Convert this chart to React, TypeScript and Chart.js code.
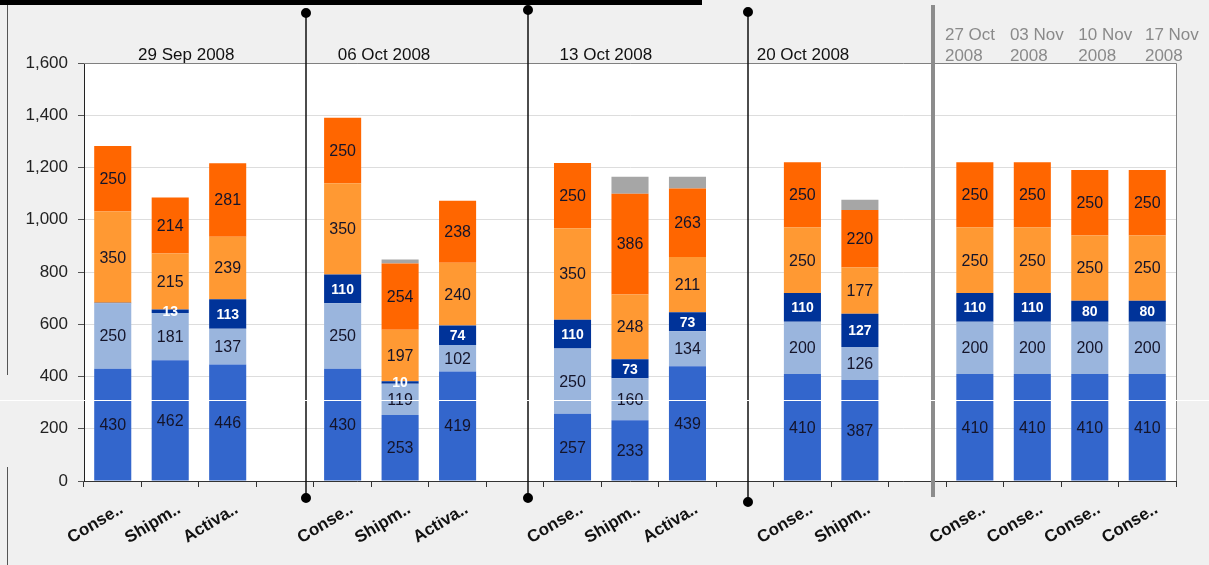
import React, { useEffect, useRef } from "react";
import { Chart, registerables } from "chart.js";

Chart.register(...registerables);

// Category slots: three weekly groups, one two-bar group, then four forecast weeks.
const categories = [
  "Conse..", "Shipm..", "Activa..", "",
  "Conse..", "Shipm..", "Activa..", "",
  "Conse..", "Shipm..", "Activa..", "",
  "Conse..", "Shipm..", "",
  "Conse..", "Conse..", "Conse..", "Conse..",
];

// Stacked series, bottom to top.
const baseValues = [430, 462, 446, null, 430, 253, 419, null, 257, 233, 439, null, 410, 387, null, 410, 410, 410, 410];
const secondValues = [250, 181, 137, null, 250, 119, 102, null, 250, 160, 134, null, 200, 126, null, 200, 200, 200, 200];
const thirdValues = [2, 13, 113, null, 110, 10, 74, null, 110, 73, 73, null, 110, 127, null, 110, 110, 80, 80];
const fourthValues = [350, 215, 239, null, 350, 197, 240, null, 350, 248, 211, null, 250, 177, null, 250, 250, 250, 250];
const fifthValues = [250, 214, 281, null, 250, 254, 238, null, 250, 386, 263, null, 250, 220, null, 250, 250, 250, 250];
const restValues = [0, 0, 0, null, 0, 15, 0, null, 0, 65, 45, null, 0, 40, null, 0, 0, 0, 0];

const yTicks = [0, 200, 400, 600, 800, 1000, 1200, 1400, 1600];

// Week headings over the actuals, placed in category-index units.
const weekTitles = ["29 Sep 2008", "06 Oct 2008", "13 Oct 2008", "20 Oct 2008"];
const weekTitlePos = [1.28, 4.72, 8.58, 12.01];

// Forecast week headings (two lines each), left edges in category-index units.
const forecastTitles = [["27 Oct", "2008"], ["03 Nov", "2008"], ["10 Nov", "2008"], ["17 Nov", "2008"]];
const forecastTitlePos = [14.48, 15.61, 16.8, 17.96];

// Week separators (category-index units) and the actuals/forecast divider.
const separatorPos = [3.36, 7.23, 11.05];
const separatorTops = [13, 10, 12];
const separatorBottoms = [498, 498, 502];
const dividerPos = 14.27;

const FONT = "'Liberation Sans', Arial, sans-serif";

const colors = ["#3366cc", "#9ab5dd", "#003399", "#ff9933", "#ff6600", "#a6a6a6"];

const decorPlugin = {
  id: "decor",
  beforeDraw(chart: any) {
    const { ctx, chartArea } = chart;
    ctx.save();
    ctx.fillStyle = "#f0f0f0";
    ctx.fillRect(0, 0, chart.width, chart.height);
    ctx.fillStyle = "#ffffff";
    ctx.fillRect(chartArea.left, chartArea.top, chartArea.right - chartArea.left, chartArea.bottom - chartArea.top);
    ctx.restore();
  },
  afterDatasetsDraw(chart: any) {
    const { ctx } = chart;
    ctx.save();
    ctx.textAlign = "center";
    ctx.textBaseline = "middle";
    for (let d = 0; d < 5; d++) {
      const meta = chart.getDatasetMeta(d);
      const data = chart.data.datasets[d].data;
      meta.data.forEach((bar: any, i: number) => {
        const v = data[i];
        if (v == null || v < 5) return;
        const y = (bar.y + bar.base) / 2;
        if (d === 2) {
          ctx.font = `bold 14px ${FONT}`;
          ctx.fillStyle = "#ffffff";
        } else {
          ctx.font = `16px ${FONT}`;
          ctx.fillStyle = "#14142a";
        }
        ctx.fillText(String(v), bar.x, y + 1);
      });
    }
    ctx.restore();
  },
  afterDraw(chart: any) {
    const { ctx, chartArea } = chart;
    const x = chart.scales.x;
    ctx.save();

    // plot frame: top and right edges
    ctx.strokeStyle = "#808080";
    ctx.lineWidth = 1;
    ctx.beginPath();
    ctx.moveTo(chartArea.left, chartArea.top + 0.5);
    ctx.lineTo(chartArea.right + 0.5, chartArea.top + 0.5);
    ctx.lineTo(chartArea.right + 0.5, chartArea.bottom);
    ctx.stroke();

    // week headings
    ctx.fillStyle = "#111111";
    ctx.font = `17px ${FONT}`;
    ctx.textAlign = "center";
    ctx.textBaseline = "alphabetic";
    weekTitles.forEach((t, i) => {
      ctx.fillText(t, x.getPixelForValue(weekTitlePos[i]), chartArea.top - 3);
    });

    // forecast headings
    ctx.fillStyle = "#8a8a8a";
    ctx.textAlign = "left";
    forecastTitles.forEach((lines, i) => {
      const px = x.getPixelForValue(forecastTitlePos[i]);
      ctx.fillText(lines[0], px, chartArea.top - 23);
      ctx.fillText(lines[1], px, chartArea.top - 2);
    });

    // week separators with end dots
    ctx.strokeStyle = "#111111";
    ctx.fillStyle = "#000000";
    ctx.lineWidth = 1.5;
    separatorPos.forEach((p, i) => {
      const px = Math.round(x.getPixelForValue(p));
      ctx.beginPath();
      ctx.moveTo(px, separatorTops[i]);
      ctx.lineTo(px, separatorBottoms[i]);
      ctx.stroke();
      ctx.beginPath();
      ctx.arc(px, separatorTops[i], 5, 0, Math.PI * 2);
      ctx.arc(px, separatorBottoms[i], 5, 0, Math.PI * 2);
      ctx.fill();
    });

    // actuals / forecast divider
    const dx = Math.round(x.getPixelForValue(dividerPos));
    ctx.strokeStyle = "#8c8c8c";
    ctx.lineWidth = 4;
    ctx.beginPath();
    ctx.moveTo(dx, 5);
    ctx.lineTo(dx, 497);
    ctx.stroke();

    // top black band and left edge rule
    ctx.fillStyle = "#000000";
    ctx.fillRect(0, 0, 702, 5);
    ctx.strokeStyle = "#555555";
    ctx.lineWidth = 1;
    ctx.beginPath();
    ctx.moveTo(7.5, 5);
    ctx.lineTo(7.5, 375);
    ctx.moveTo(7.5, 467);
    ctx.lineTo(7.5, chart.height);
    ctx.stroke();

    // thin white seam across the figure
    ctx.strokeStyle = "#ffffff";
    ctx.beginPath();
    ctx.moveTo(0, 400.5);
    ctx.lineTo(chart.width, 400.5);
    ctx.stroke();

    ctx.restore();
  },
};

export default function App() {
  const ref = useRef<HTMLCanvasElement>(null);

  useEffect(() => {
    if (!ref.current) return;
    const series = [baseValues, secondValues, thirdValues, fourthValues, fifthValues, restValues];
    const names = ["Base", "Second", "Third", "Fourth", "Fifth", "Other"];
    const chart = new Chart(ref.current, {
      type: "bar",
      data: {
        labels: categories,
        datasets: series.map((s, i) => ({
          label: names[i],
          data: s,
          backgroundColor: colors[i],
          borderWidth: 0,
          barPercentage: 0.645,
          categoryPercentage: 1,
        })),
      },
      options: {
        responsive: false,
        animation: false,
        layout: { padding: { top: 63, right: 33, left: 0, bottom: 0 } },
        plugins: {
          legend: { display: false },
          tooltip: { enabled: false },
        },
        scales: {
          x: {
            stacked: true,
            grid: { drawOnChartArea: false, tickLength: 6, color: "#333333" },
            border: { color: "#333333" },
            ticks: {
              autoSkip: false,
              minRotation: 31,
              maxRotation: 31,
              padding: 12,
              labelOffset: 9,
              color: "#111111",
              font: { family: FONT, size: 17, weight: "bold" },
            },
            afterFit: (s: any) => {
              s.height = 84;
            },
          },
          y: {
            stacked: true,
            min: 0,
            max: 1600,
            afterBuildTicks: (s: any) => {
              s.ticks = yTicks.map((v) => ({ value: v }));
            },
            ticks: {
              color: "#222222",
              padding: 10,
              font: { family: FONT, size: 17 },
              callback: (v: any) => Number(v).toLocaleString("en-US"),
            },
            grid: { color: "#dddddd", tickColor: "#555555", tickLength: 6 },
            border: { color: "#222222" },
            afterFit: (s: any) => {
              s.width = 84;
            },
          },
        },
      },
      plugins: [decorPlugin],
    });
    return () => chart.destroy();
  }, []);

  return (
    <canvas
      ref={ref}
      width={1209}
      height={565}
      style={{ position: "fixed", left: 0, top: 0, width: 1209, height: 565 }}
    />
  );
}
